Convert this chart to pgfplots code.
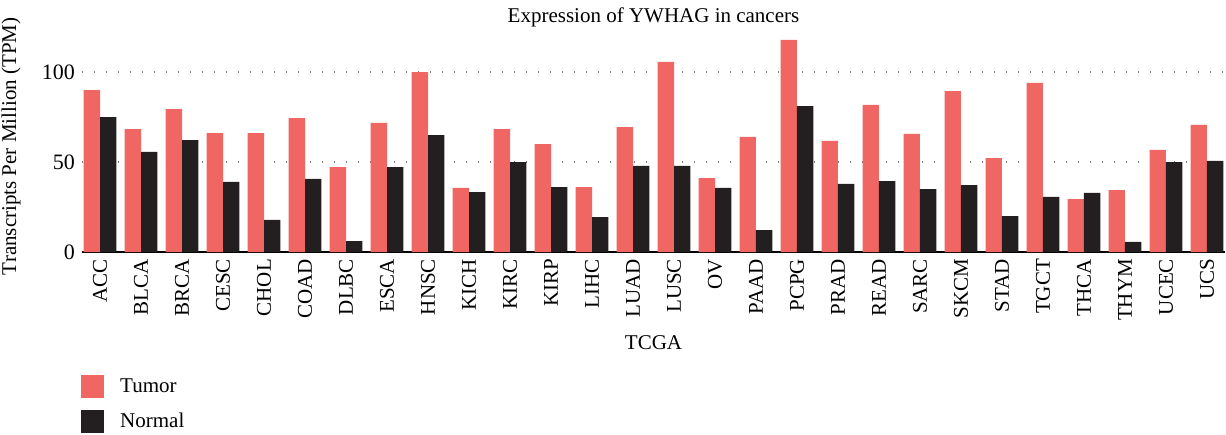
\documentclass[border=0pt]{standalone}
\usepackage{fontspec}
\setmainfont{Liberation Serif}
\usepackage{pgfplots}
\usepackage{pgfplotstable}
\pgfplotsset{compat=1.18}
\definecolor{tumor}{HTML}{F06662}
\definecolor{normal}{HTML}{231F20}
\pgfplotstableread{
x name tumor normal
0 ACC 90 75
1 BLCA 68.3 55.6
2 BRCA 79.4 62.2
3 CESC 66.1 38.9
4 CHOL 66.1 17.8
5 COAD 74.4 40.6
6 DLBC 47.2 6.1
7 ESCA 71.7 47.2
8 HNSC 100 65
9 KICH 35.6 33.3
10 KIRC 68.3 50
11 KIRP 60 36.1
12 LIHC 36.1 19.4
13 LUAD 69.4 47.8
14 LUSC 105.6 47.8
15 OV 41.1 35.6
16 PAAD 63.9 12.2
17 PCPG 117.8 81.1
18 PRAD 61.7 37.8
19 READ 81.7 39.4
20 SARC 65.6 35
21 SKCM 89.4 37.2
22 STAD 52.2 20
23 TGCT 93.9 30.6
24 THCA 29.4 32.8
25 THYM 34.4 5.6
26 UCEC 56.7 50
27 UCS 70.6 50.6
}\data
\begin{document}
\begin{tikzpicture}
\useasboundingbox (-41pt,-91pt) rectangle (572pt,126pt);
\begin{axis}[
  at={(0,0)}, anchor=south west,
  scale only axis,
  width=571.5pt, height=112.5pt,
  xmin=-0.44, xmax=27.44,
  ymin=0, ymax=125,
  ybar, bar width=0.4,
  xtick=data,
  xticklabels from table={\data}{name},
  x tick label style={rotate=90, anchor=east, font=\fontsize{10.5}{12}\selectfont},
  ytick={0,50,100},
  y tick label style={font=\fontsize{11}{12}\selectfont},
  /pgf/number format/assume math mode=true,
  major tick length=0pt,
  axis x line*=bottom,
  axis y line*=left,
  x axis line style={-, line width=0.8pt, black},
  y axis line style={draw=none},
  ymajorgrids,
  grid style={gray, line width=0.6pt, dash pattern=on 0.6pt off 5.4pt},
  title={Expression of YWHAG in cancers},
  every axis title/.style={at={(0.5,1.044)}, anchor=center, font=\fontsize{10.5}{12}\selectfont, inner sep=0pt},
  xlabel={TCGA},
  xlabel style={at={(axis description cs:0.5,-0.404)}, anchor=center, font=\fontsize{10.5}{12}\selectfont},
  ylabel={Transcripts Per Million (TPM)},
  ylabel style={at={(axis description cs:-0.062,0.47)}, anchor=center, font=\fontsize{10.5}{12}\selectfont},
  legend style={at={(-0.001,-0.547)}, anchor=north west, draw=none, fill=none, inner sep=0pt,
     row sep=6pt, font=\fontsize{10.5}{12}\selectfont,
     nodes={inner ysep=0pt, inner xsep=8pt}},
  legend cell align=left,
  legend image code/.code={\fill[#1] (0pt,-5.75pt) rectangle (11.5pt,5.75pt);},
]
\addplot[fill=tumor, draw=none, bar shift=-0.2] table[x=x, y=tumor] {\data};
\addlegendentry{Tumor}
\addplot[fill=normal, draw=none, bar shift=0.2] table[x=x, y=normal] {\data};
\addlegendentry{Normal}
\end{axis}
\end{tikzpicture}
\end{document}
